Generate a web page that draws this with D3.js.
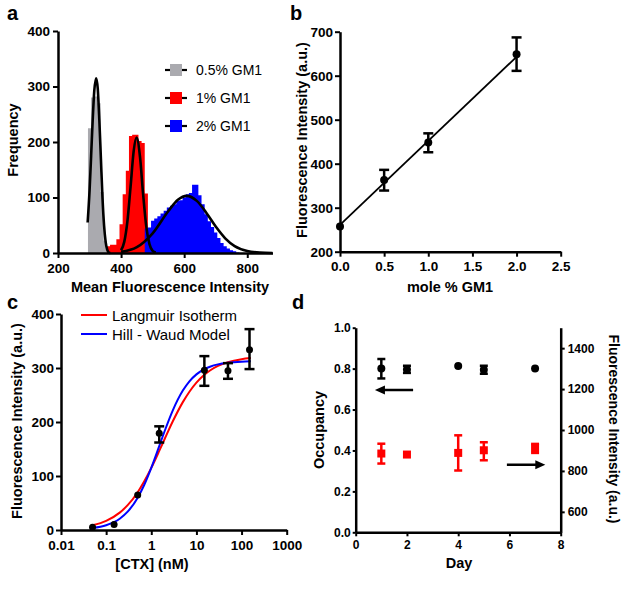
<!DOCTYPE html>
<html><head><meta charset="utf-8">
<script src="https://cdn.jsdelivr.net/npm/d3@7"></script>
<style>body{margin:0;background:#fff}</style>
</head><body><svg id="c" width="624" height="591"></svg>
<script>
// ---------- Panel a data ----------
const grayBinStart = [295,305,315,325,335,345];
const grayFreq     = [225,280,282,270,110,22];
const redBinStart  = [355,365,375,385,395,405,415,425,435,445,455,465,475];
const redFreq      = [12,15,15,25,52,106,148,211,213,213,202,198,107];
const blueBinStart = [475,485,495,505,515,525,535,545,555,565,575,585,595,605,615,625,635,645,655,665,675,685,695,705,715,725,735,745,755,765];
const blueFreq     = [44,46,58,62,66,71,76,82,85,88,94,95,100,106,108,123,123,104,88,70,57,47,37,27,18,12,8,5,3,1];
const binWidth = 10;
const grayFitX = [294,300,305,310,315,321,326,331,336,341,346,351,356,361,366];
const grayFitY = [55,112,175,240,292,315,296,240,170,100,50,20,6,1,0];
const redFitX  = [400,410,420,430,440,449,460,470,480,490,500,510];
const redFitY  = [5,20,57,119,184,208,173,105,47,16,4,1];
const blueFitX = [400,450,500,550,580,608,640,670,700,730,760,800,840,880];
const blueFitY = [2,10.5,35.5,75.8,95.9,103,93.9,72.5,47.6,26.5,12.5,3.6,0.8,0.1];
const legendA  = ["0.5% GM1","1% GM1","2% GM1"];
const xTicksA  = [200,400,600,800];
const yTicksA  = [0,100,200,300,400];

// ---------- Panel b data ----------
const gm1     = [0,0.5,1.0,2.0];
const intB    = [257,363,448,649];
const errLoB  = [257,339,426,611];
const errHiB  = [257,386,469,687];
const fitBX   = [0,2.0];
const fitBY   = [261,643];
const xTicksB = [0,0.5,1.0,1.5,2.0,2.5];
const yTicksB = [200,300,400,500,600,700];

// ---------- Panel c data ----------
const ctx     = [0.05,0.15,0.5,1.5,15,50,150];
const intC    = [5,10,65,179,296,295,334];
const errLoC  = [5,10,65,162,267,280,298];
const errHiC  = [5,10,65,192,322,309,372];
const curveX  = [0.05,0.1,0.2,0.3,0.5,0.7,1,1.5,2,3,5,7,10,15,20,30,50,100,160];
const langY   = [8.7,16.9,32.2,46,70,90.2,115,146.4,169.5,201.3,236.8,256.1,272.9,287.5,295.4,303.8,310.8,316.3,318.4];
const hillY   = [3.7,8.9,20.9,33.9,59.8,83.8,115.1,155.3,184.3,221.6,258.2,275.3,288.2,298,302.4,306.7,309.7,311.7,312.3];
const legendC = ["Langmuir Isotherm","Hill - Waud Model"];
const xTicksC = [0.01,0.1,1,10,100,1000];
const yTicksC = [0,100,200,300,400];

// ---------- Panel d data ----------
const days     = [1,2,4,5,7];
const occ      = [0.800,0.796,0.813,0.795,0.800];
const occLo    = [0.752,0.779,0.813,0.775,0.800];
const occHi    = [0.847,0.814,0.813,0.814,0.800];
const fluD     = [885,880,888,901,911];
const fluLo    = [836,880,802,852,888];
const fluHi    = [933,880,974,940,932];
const arrowL   = {x1:2.24, x2:0.75, y:0.695};
const arrowR   = {x1:5.9, x2:7.4, y:0.33};
const xTicksD  = [0,2,4,6,8];
const yTicksDL = [0,0.2,0.4,0.6,0.8,1.0];
const yTicksDR = [600,800,1000,1200,1400];

const FONT = '"Liberation Sans", Arial, Helvetica, sans-serif';
const svg = d3.select('#c');
const GRAY = '#aaaaaf', RED = '#ff0000', BLUE = '#0000ff';

function styleAxis(g, fs){
  g.attr('font-family', FONT).attr('font-size', fs).attr('font-weight','bold');
  g.select('.domain').attr('stroke','#000').attr('stroke-width',2.5);
  g.selectAll('.tick line').attr('stroke','#000').attr('stroke-width',2);
  g.selectAll('.tick text').attr('fill','#000');
}
function text(x,y,s,opt={}){
  const t = svg.append('text').attr('x',x).attr('y',y).text(s)
    .attr('font-family',FONT).attr('font-size',opt.size||14.5)
    .attr('font-weight',opt.weight||'bold').attr('fill','#000')
    .attr('text-anchor',opt.anchor||'middle');
  if(opt.rotate) t.attr('transform',`rotate(${opt.rotate},${x},${y})`);
  return t;
}
function errBar(g,x,y1,y2,w,color,sw){
  g.append('line').attr('x1',x).attr('x2',x).attr('y1',y1).attr('y2',y2).attr('stroke',color).attr('stroke-width',sw);
  g.append('line').attr('x1',x-w/2).attr('x2',x+w/2).attr('y1',y1).attr('y2',y1).attr('stroke',color).attr('stroke-width',sw);
  g.append('line').attr('x1',x-w/2).attr('x2',x+w/2).attr('y1',y2).attr('y2',y2).attr('stroke',color).attr('stroke-width',sw);
}

// ================= Panel a =================
{
  const xa = d3.scaleLinear().domain([200,880]).range([58,272.5]);
  const ya = d3.scaleLinear().domain([0,400]).range([253,31]);
  const g = svg.append('g');
  const area = d3.area().x(d=>xa(d[0])).y0(ya(0)).y1(d=>ya(d[1])).curve(d3.curveStepAfter);
  function hist(starts, freq, color){
    const pts = starts.map((s,i)=>[s,freq[i]]);
    pts.push([starts[starts.length-1]+binWidth, freq[freq.length-1]]);
    g.append('path').attr('d',area(pts)).attr('fill',color);
  }
  hist(grayBinStart, grayFreq, GRAY);
  hist(redBinStart, redFreq, RED);
  hist(blueBinStart, blueFreq, BLUE);
  const line = d3.line().x(d=>xa(d[0])).y(d=>ya(d[1])).curve(d3.curveMonotoneX);
  [[grayFitX,grayFitY],[redFitX,redFitY],[blueFitX,blueFitY]].forEach(([X,Y])=>{
    g.append('path').attr('d',line(X.map((x,i)=>[x,Y[i]]))).attr('fill','none')
      .attr('stroke','#000').attr('stroke-width',2.6).attr('stroke-linejoin','round');
  });
  const ax = svg.append('g').attr('transform',`translate(0,${ya(0)})`)
    .call(d3.axisBottom(xa).tickValues(xTicksA).tickSize(5).tickPadding(5).tickSizeOuter(0));
  styleAxis(ax,13.5);
  const ay = svg.append('g').attr('transform',`translate(${xa(200)},0)`)
    .call(d3.axisLeft(ya).tickValues(yTicksA).tickSize(5).tickPadding(3).tickSizeOuter(0));
  styleAxis(ay,13.5);
  text(170,292,'Mean Fluorescence Intensity');
  text(18,140,'Frequency',{rotate:-90});
  text(7,20,'a',{size:20,anchor:'start'});
  const colors=[GRAY,RED,BLUE];
  legendA.forEach((s,i)=>{
    const cy = 70 + i*28;
    svg.append('line').attr('x1',165).attr('x2',187).attr('y1',cy).attr('y2',cy).attr('stroke','#000').attr('stroke-width',2.2);
    svg.append('rect').attr('x',170).attr('y',cy-6).attr('width',12).attr('height',12).attr('fill',colors[i]);
    text(196,cy+5,s,{size:14,weight:'normal',anchor:'start'});
  });
}

// ================= Panel b =================
{
  const xb = d3.scaleLinear().domain([0,2.5]).range([340,560.7]);
  const yb = d3.scaleLinear().domain([200,700]).range([251.7,31.7]);
  const g = svg.append('g');
  g.append('path').attr('d',d3.line().x(d=>xb(d[0])).y(d=>yb(d[1]))(fitBX.map((x,i)=>[x,fitBY[i]])))
    .attr('stroke','#000').attr('stroke-width',1.8).attr('fill','none');
  gm1.forEach((x,i)=>{
    if(errHiB[i]!==errLoB[i]) errBar(g,xb(x),yb(errHiB[i]),yb(errLoB[i]),10,'#000',2.5);
    g.append('circle').attr('cx',xb(x)).attr('cy',yb(intB[i])).attr('r',4).attr('fill','#000');
  });
  const ax = svg.append('g').attr('transform',`translate(0,${yb(200)})`)
    .call(d3.axisBottom(xb).tickValues(xTicksB).tickFormat(d3.format('.1f')).tickSize(5).tickPadding(5).tickSizeOuter(0));
  styleAxis(ax,13.5);
  const ay = svg.append('g').attr('transform',`translate(${xb(0)},0)`)
    .call(d3.axisLeft(yb).tickValues(yTicksB).tickSize(5).tickPadding(2).tickSizeOuter(0));
  styleAxis(ay,13.5);
  text(450,292,'mole % GM1');
  text(307,140,'Fluorescence Intensity (a.u.)',{rotate:-90});
  text(290,20,'b',{size:20,anchor:'start'});
}

// ================= Panel c =================
{
  const xc = d3.scaleLog().domain([0.01,1000]).range([61,286.7]);
  const yc = d3.scaleLinear().domain([0,400]).range([530,314]);
  const g = svg.append('g');
  const line = d3.line().x(d=>xc(d[0])).y(d=>yc(d[1])).curve(d3.curveMonotoneX);
  g.append('path').attr('d',line(curveX.map((x,i)=>[x,langY[i]]))).attr('fill','none').attr('stroke',RED).attr('stroke-width',2);
  g.append('path').attr('d',line(curveX.map((x,i)=>[x,hillY[i]]))).attr('fill','none').attr('stroke',BLUE).attr('stroke-width',2);
  ctx.forEach((x,i)=>{
    if(errHiC[i]!==errLoC[i]) errBar(g,xc(x),yc(errHiC[i]),yc(errLoC[i]),10,'#000',2.5);
    g.append('circle').attr('cx',xc(x)).attr('cy',yc(intC[i])).attr('r',3.5).attr('fill','#000');
  });
  const ax = svg.append('g').attr('transform',`translate(0,${yc(0)})`)
    .call(d3.axisBottom(xc).tickValues(xTicksC).tickFormat(d=>String(d)).tickSize(5).tickPadding(5).tickSizeOuter(0));
  styleAxis(ax,13.5);
  const ay = svg.append('g').attr('transform',`translate(${xc(0.01)},0)`)
    .call(d3.axisLeft(yc).tickValues(yTicksC).tickSize(5).tickPadding(2).tickSizeOuter(0));
  styleAxis(ay,13.5);
  text(152,569,'[CTX] (nM)');
  text(22,421,'Fluorescence Intensity (a.u.)',{rotate:-90});
  text(7,309,'c',{size:20,anchor:'start'});
  const cols=[RED,BLUE];
  legendC.forEach((s,i)=>{
    const cy = 315 + i*19;
    svg.append('line').attr('x1',81).attr('x2',107).attr('y1',cy).attr('y2',cy).attr('stroke',cols[i]).attr('stroke-width',2);
    text(112,cy+5.5,s,{size:15,weight:'normal',anchor:'start'});
  });
}

// ================= Panel d =================
{
  const xd = d3.scaleLinear().domain([0,8]).range([355.7,560.7]);
  const yl = d3.scaleLinear().domain([0,1]).range([532.3,327.7]);
  const yr = d3.scaleLinear().domain([500,1500]).range([532.3,327.7]);
  const g = svg.append('g');
  days.forEach((x,i)=>{
    if(occHi[i]!==occLo[i]) errBar(g,xd(x),yl(occHi[i]),yl(occLo[i]),8,'#000',2.5);
    g.append('circle').attr('cx',xd(x)).attr('cy',yl(occ[i])).attr('r',4).attr('fill','#000');
    if(fluHi[i]!==fluLo[i]) errBar(g,xd(x),yr(fluHi[i]),yr(fluLo[i]),8,RED,2.5);
    g.append('rect').attr('x',xd(x)-4).attr('y',yr(fluD[i])-4).attr('width',8).attr('height',8).attr('fill',RED);
  });
  function arrow(a){
    const x1=xd(a.x1), x2=xd(a.x2), y=yl(a.y), dir = Math.sign(x2-x1);
    g.append('line').attr('x1',x1).attr('x2',x2-dir*6).attr('y1',y).attr('y2',y).attr('stroke','#000').attr('stroke-width',2.5);
    g.append('path').attr('d',`M${x2},${y}L${x2-dir*10},${y-4.5}L${x2-dir*10},${y+4.5}Z`).attr('fill','#000');
  }
  arrow(arrowL); arrow(arrowR);
  const ax = svg.append('g').attr('transform',`translate(0,${yl(0)})`)
    .call(d3.axisBottom(xd).tickValues(xTicksD).tickSize(4).tickPadding(4).tickSizeOuter(0));
  styleAxis(ax,12);
  const ay = svg.append('g').attr('transform',`translate(${xd(0)},0)`)
    .call(d3.axisLeft(yl).tickValues(yTicksDL).tickFormat(d3.format('.1f')).tickSize(3).tickPadding(2).tickSizeOuter(0));
  styleAxis(ay,12);
  const ar = svg.append('g').attr('transform',`translate(${xd(8)},0)`)
    .call(d3.axisRight(yr).tickValues(yTicksDR).tickFormat(d3.format('d')).tickSize(4).tickPadding(3).tickSizeOuter(0));
  styleAxis(ar,12);
  text(459,568,'Day');
  text(324,430,'Occupancy',{rotate:-90});
  text(609,429,'Fluorescence Intensity (a.u.)',{rotate:90,size:14});
  text(292,309,'d',{size:20,anchor:'start'});
}
</script></body></html>
